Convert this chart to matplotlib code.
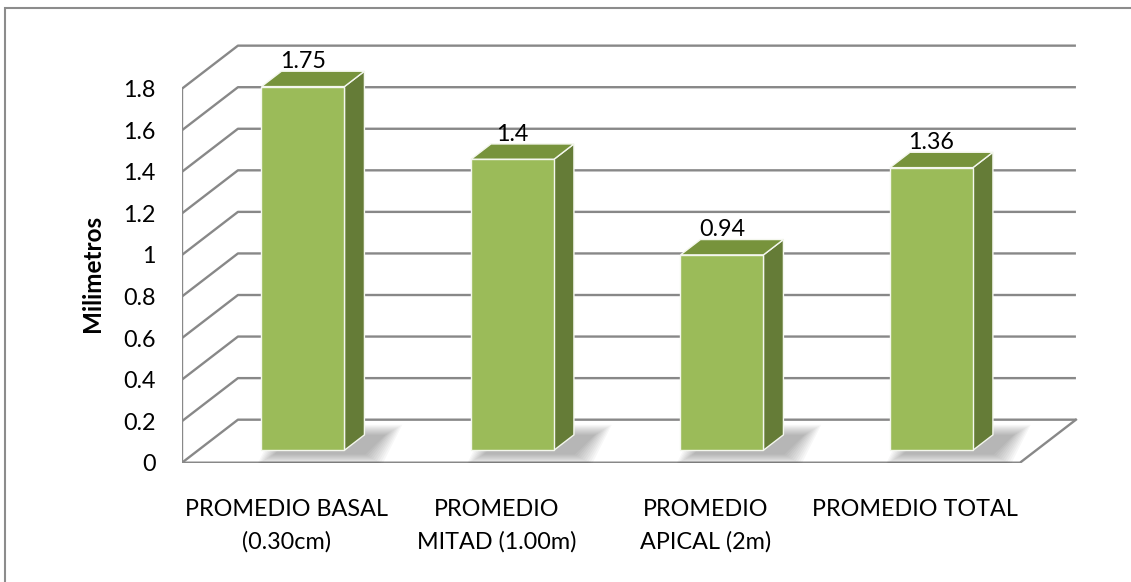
import matplotlib

matplotlib.use("Agg")
import matplotlib.pyplot as plt  # noqa: E402
from matplotlib.patches import Polygon, Rectangle  # noqa: E402

categories = ["PROMEDIO BASAL\n(0.30cm)", "PROMEDIO\nMITAD (1.00m)", "PROMEDIO\nAPICAL (2m)", "PROMEDIO TOTAL"]
values = [1.75, 1.4, 0.94, 1.36]
value_labels = ["1.75", "1.4", "0.94", "1.36"]
yticks = [0, 0.2, 0.4, 0.6, 0.8, 1.0, 1.2, 1.4, 1.6, 1.8]
ytick_labels = ["0", "0.2", "0.4", "0.6", "0.8", "1", "1.2", "1.4", "1.6", "1.8"]

W, H = 1131, 582
X0, Y0 = 182, 462.7          # pixel position of the front origin
XS, YS = 209.5, 207.8        # pixels per category / per unit
XMAX, YMAX = 4.35, 2.05
DX, DY = 0.267, 0.207        # depth offset of the back wall (data units)
F0, F1 = 0.29, 0.647         # depth fraction of bar front / back
BAR_W = 0.396

FRONT = "#9bbb59"
TOP = "#77933c"
SIDE = "#657c37"
GRID = "#888888"
FONT = ["Lato", "DejaVu Sans"]
FS = 16.8

plt.rcParams["font.family"] = FONT

fig = plt.figure(figsize=(W / 100, H / 100), dpi=100)
ax = fig.add_axes([X0 / W, (H - Y0) / H, XMAX * XS / W, YMAX * YS / H])
ax.set_xlim(0, XMAX)
ax.set_ylim(0, YMAX)
for s in ax.spines.values():
    s.set_visible(False)
ax.patch.set_visible(False)

# walls: gridlines on back wall and left side wall
n = len(categories)
for v in yticks:
    ax.plot([0, DX, n + DX], [v, v + DY, v + DY], color=GRID, lw=1.7, solid_capstyle="butt", zorder=1)
ax.plot([0, 0], [0, yticks[-1]], color=GRID, lw=1.7, zorder=1)
ax.plot([0, n, n + DX], [0, 0, DY], color=GRID, lw=1.7, zorder=1)

# bars drawn as oblique boxes
ddx, ddy = (F1 - F0) * DX, (F1 - F0) * DY
for i, v in enumerate(values):
    x0 = i + 0.5 - BAR_W / 2 + F0 * DX
    y0 = F0 * DY
    x1 = x0 + BAR_W
    y1 = y0 + v

    # soft shadow on the floor
    for k in range(10):
        e = 0.009 * k
        shadow = [(x0 + 0.06 - e, y0 - 0.02 - 0.6 * e), (x1 + 0.10 + e, y0 - 0.02 - 0.6 * e),
                  (x1 + ddx + 0.10 + e, y0 + ddy + 0.6 * e), (x0 + ddx + 0.06 - e, y0 + ddy + 0.6 * e)]
        ax.add_patch(Polygon(shadow, closed=True, facecolor="black", edgecolor="none",
                             alpha=0.03, zorder=2))

    side = [(x1, y0), (x1 + ddx, y0 + ddy), (x1 + ddx, y1 + ddy), (x1, y1)]
    top = [(x0, y1), (x1, y1), (x1 + ddx, y1 + ddy), (x0 + ddx, y1 + ddy)]
    front = [(x0, y0), (x1, y0), (x1, y1), (x0, y1)]
    for pts, col in ((side, SIDE), (top, TOP), (front, FRONT)):
        ax.add_patch(Polygon(pts, closed=True, facecolor=col, edgecolor="#f4f7ee",
                             lw=1.0, joinstyle="miter", zorder=3))

    ax.text((x0 + x1) / 2, y1 + ddy + 0.015, value_labels[i], ha="center", va="baseline",
            fontsize=FS, color="black", zorder=4)

ax.set_yticks(yticks)
ax.set_yticklabels(ytick_labels, fontsize=FS)
ax.set_xticks([i + 0.5 for i in range(n)])
ax.set_xticklabels(categories, fontsize=FS, linespacing=1.62)
ax.tick_params(axis="y", length=0, pad=19)
ax.tick_params(axis="x", length=0, pad=26)
ax.set_ylabel("Milimetros", fontsize=17.5, fontweight="bold")
ax.yaxis.set_label_coords((92 - X0) / (XMAX * XS), (Y0 - 273) / (YMAX * YS))
ax.yaxis.label.set_va("center")

# chart border (only left and top edges fall inside the image)
fig.add_artist(Rectangle((5 / W, -0.1), 1.2, (H - 8) / H + 0.1, transform=fig.transFigure,
                         fill=False, edgecolor="#8c8c8c", lw=1.5))

fig.savefig("out.png", dpi=100, facecolor="white")
